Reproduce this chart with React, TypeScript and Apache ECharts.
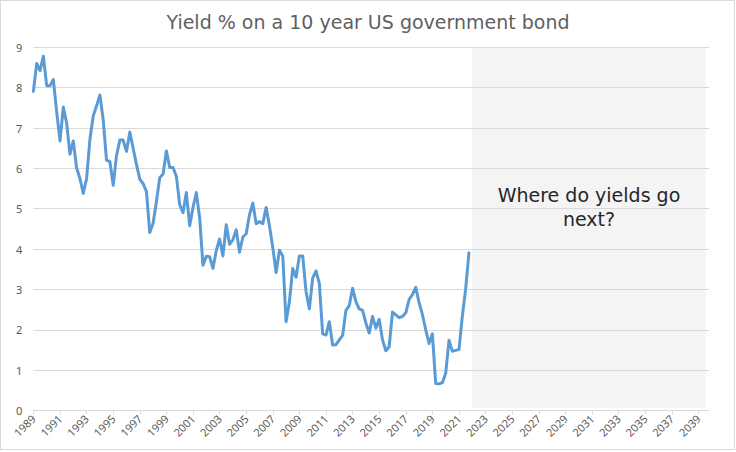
import React, { useEffect, useRef } from "react";
import * as echarts from "echarts";

const titleText = "Yield % on a 10 year US government bond";
const calloutLines = ["Where do yields go", "next?"];

// quarterly observations, first one plotted at 1989 on the axis
const startYear = 1989;
const quarterStep = 0.25;
const yields = [
  7.91, 8.6, 8.42, 8.78, 8.05, 8.05, 8.2, 7.4, 6.68, 7.52,
  7.12, 6.35, 6.68, 6.01, 5.75, 5.38, 5.75, 6.72, 7.3, 7.55,
  7.82, 7.2, 6.2, 6.17, 5.58, 6.32, 6.7, 6.7, 6.42, 6.9,
  6.5, 6.1, 5.73, 5.62, 5.43, 4.41, 4.64, 5.18, 5.77, 5.86,
  6.43, 6.02, 6.02, 5.8, 5.1, 4.9, 5.4, 4.58, 5.03, 5.4,
  4.78, 3.6, 3.82, 3.81, 3.52, 3.96, 4.25, 3.83, 4.6, 4.12,
  4.23, 4.48, 3.92, 4.3, 4.38, 4.85, 5.14, 4.63, 4.68, 4.63,
  5.03, 4.57, 4.04, 3.42, 3.97, 3.83, 2.2, 2.7, 3.52, 3.3,
  3.83, 3.83, 2.95, 2.52, 3.28, 3.46, 3.15, 1.9, 1.87, 2.2,
  1.62, 1.63, 1.75, 1.86, 2.48, 2.6, 3.03, 2.7, 2.52, 2.48,
  2.17, 1.92, 2.33, 2.04, 2.26, 1.75, 1.48, 1.58, 2.44, 2.37,
  2.3, 2.33, 2.42, 2.75, 2.87, 3.05, 2.67, 2.38, 2.0, 1.66,
  1.9, 0.67, 0.66, 0.69, 0.92, 1.74, 1.47, 1.49, 1.51, 2.33,
  3.0, 3.91,
];

const yearTicks = [
  1989, 1991, 1993, 1995, 1997, 1999, 2001, 2003, 2005, 2007, 2009, 2011, 2013,
  2015, 2017, 2019, 2021, 2023, 2025, 2027, 2029, 2031, 2033, 2035, 2037, 2039,
];
const yTicks = [0, 1, 2, 3, 4, 5, 6, 7, 8, 9];

const axisMin = 1989;
const axisMax = 2039.8;
const forecastStart = 2022.0;
const forecastEnd = 2039.55;
const forecastTop = 9;
const forecastBottom = 0.07;

export default function App() {
  const ref = useRef<HTMLDivElement>(null);

  useEffect(() => {
    if (!ref.current) return;
    const chart = echarts.init(ref.current, null, { renderer: "svg" });
    const data = yields.map((v, i) => [startYear + i * quarterStep, v]);
    const font = "DejaVu Sans";
    chart.setOption({
      animation: false,
      backgroundColor: "#ffffff",
      title: {
        text: titleText,
        left: "center",
        top: 7,
        textStyle: {
          fontFamily: font,
          fontSize: 19,
          fontWeight: "normal",
          color: "#5f5f5f",
        },
      },
      grid: { left: 33.4, right: 27, top: 47.3, bottom: 41.5, containLabel: false },
      xAxis: {
        type: "value",
        min: axisMin,
        max: axisMax,
        axisLine: { show: true, lineStyle: { color: "#d9d9d9", width: 1 } },
        axisTick: {
          show: true,
          length: 4,
          customValues: yearTicks,
          lineStyle: { color: "#d9d9d9" },
        },
        axisLabel: {
          customValues: yearTicks,
          rotate: 45,
          fontSize: 11,
          color: "#595959",
          fontFamily: "Noto Sans",
          margin: 6,
          formatter: (v: number) => String(Math.round(v)),
        },
        splitLine: { show: false },
      },
      yAxis: {
        type: "value",
        min: yTicks[0],
        max: yTicks[yTicks.length - 1],
        interval: 1,
        axisLine: { show: false },
        axisTick: { show: false },
        axisLabel: {
          fontSize: 11,
          color: "#595959",
          fontFamily: "Noto Sans",
          margin: 11,
        },
        splitLine: { show: true, lineStyle: { color: "#d9d9d9", width: 1 } },
      },
      series: [
        {
          type: "line",
          data,
          showSymbol: false,
          symbol: "none",
          lineStyle: { color: "#5b9bd5", width: 3, join: "round", cap: "round" },
          z: 3,
          markArea: {
            silent: true,
            itemStyle: { color: "rgba(217,217,217,0.28)" },
            label: {
              show: true,
              position: "inside",
              offset: [0, -20],
              formatter: calloutLines.join("\n"),
              fontFamily: font,
              fontSize: 19,
              lineHeight: 24,
              color: "#262626",
              align: "center",
            },
            data: [
              [
                { coord: [forecastStart, forecastTop] },
                { coord: [forecastEnd, forecastBottom] },
              ],
            ],
          },
        },
      ],
    });
    return () => chart.dispose();
  }, []);

  return (
    <>
      <div
        ref={ref}
        style={{ position: "fixed", left: 0, top: 0, width: 736, height: 452 }}
      />
      <div
        style={{
          position: "fixed",
          left: 0,
          top: 0,
          width: 735,
          height: 450,
          boxSizing: "border-box",
          border: "1px solid #d9d9d9",
          pointerEvents: "none",
        }}
      />
    </>
  );
}
